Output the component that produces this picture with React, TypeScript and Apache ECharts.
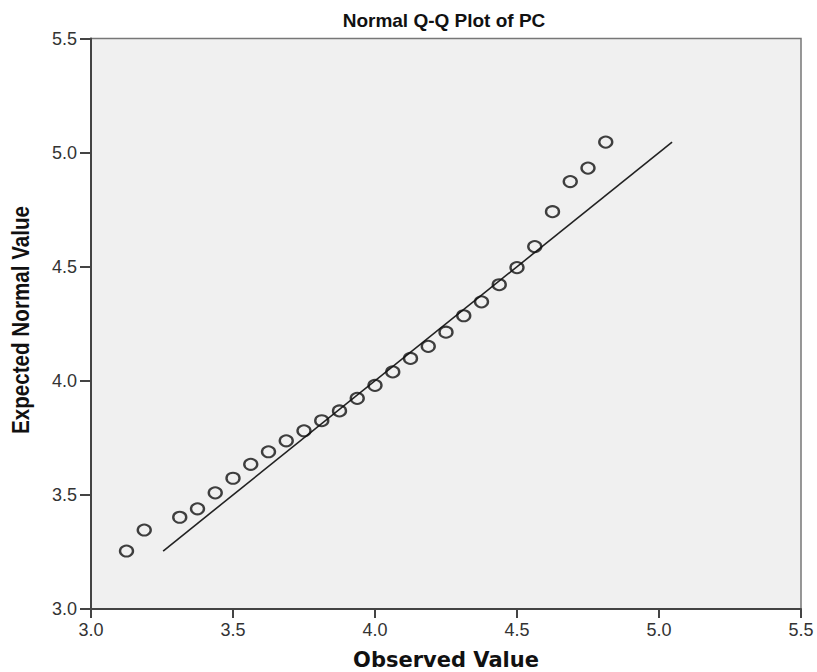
import React, { useEffect, useRef } from "react";
import * as echarts from "echarts";

const titleText = "Normal Q-Q Plot of PC";
const xAxisName = "Observed Value";
const yAxisName = "Expected Normal Value";

const observedValues = [
  3.125, 3.1875, 3.3125, 3.375, 3.4375, 3.5, 3.5625, 3.625, 3.6875, 3.75,
  3.8125, 3.875, 3.9375, 4.0, 4.0625, 4.125, 4.1875, 4.25, 4.3125, 4.375,
  4.4375, 4.5, 4.5625, 4.625, 4.6875, 4.75, 4.8125,
];
const expectedNormalValues = [
  3.254, 3.346, 3.402, 3.439, 3.509, 3.573, 3.634, 3.689, 3.737, 3.781,
  3.825, 3.868, 3.923, 3.980, 4.039, 4.098, 4.151, 4.213, 4.285, 4.346,
  4.421, 4.496, 4.588, 4.741, 4.873, 4.932, 5.046,
];
const referenceLineX = [3.254, 5.046];
const referenceLineY = [3.254, 5.046];

const axisMin = 3.0;
const axisMax = 5.5;
const axisInterval = 0.5;

export default function App() {
  const ref = useRef<HTMLDivElement>(null);
  useEffect(() => {
    if (!ref.current) return;
    const chart = echarts.init(ref.current, null, { renderer: "svg" });
    const tickFont = {
      color: "#333",
      fontFamily: "Liberation Sans, Arial, sans-serif",
      fontSize: 18,
      formatter: (v: number) => v.toFixed(1),
    };
    chart.setOption({
      animation: false,
      backgroundColor: "#ffffff",
      title: {
        text: titleText,
        left: 439,
        textAlign: "center",
        top: 6,
        textStyle: {
          fontFamily: "Liberation Sans, Arial, sans-serif",
          fontWeight: "bold",
          fontSize: 19,
          color: "#111",
        },
      },
      graphic: [
        {
          type: "text",
          x: 21,
          y: 320,
          rotation: Math.PI / 2,
          scaleX: 0.86,
          scaleY: 1,
          style: {
            text: yAxisName,
            fontFamily: "Liberation Sans, Arial, sans-serif",
            fontWeight: "bold",
            fontSize: 24,
            fill: "#111",
            textAlign: "center",
            textVerticalAlign: "middle",
          },
        },
      ],
      grid: {
        left: 91,
        right: 16,
        top: 38.5,
        bottom: 63,
        outerBoundsMode: "none",
        containLabel: false,
        show: true,
        backgroundColor: "#f0f0f0",
        borderColor: "#777",
        borderWidth: 1.5,
      },
      xAxis: {
        type: "value",
        min: axisMin,
        max: axisMax,
        interval: axisInterval,
        name: xAxisName,
        nameLocation: "middle",
        nameGap: 40,
        nameTextStyle: {
          fontFamily: "DejaVu Sans, Verdana, sans-serif",
          fontWeight: "bold",
          fontSize: 21,
          color: "#111",
        },
        axisLine: { show: true, onZero: false, lineStyle: { color: "#444", width: 2 } },
        axisTick: { show: true, length: 9, lineStyle: { color: "#444", width: 2 } },
        axisLabel: { ...tickFont, margin: 12 },
        splitLine: { show: false },
      },
      yAxis: {
        type: "value",
        min: axisMin,
        max: axisMax,
        interval: axisInterval,
        axisLine: { show: true, onZero: false, lineStyle: { color: "#444", width: 2 } },
        axisTick: { show: true, length: 11, lineStyle: { color: "#444", width: 2 } },
        axisLabel: { ...tickFont, margin: 14 },
        splitLine: { show: false },
      },
      series: [
        {
          type: "line",
          data: referenceLineX.map((x, i) => [x, referenceLineY[i]]),
          symbol: "none",
          lineStyle: { color: "#222", width: 1.6 },
          silent: true,
          z: 1,
        },
        {
          type: "scatter",
          data: observedValues.map((x, i) => [x, expectedNormalValues[i]]),
          symbol: "circle",
          symbolSize: [13, 11],
          itemStyle: {
            color: "rgba(0,0,0,0)",
            borderColor: "#111",
            borderWidth: 2.2,
          },
          z: 2,
        },
      ],
    });
    return () => chart.dispose();
  }, []);
  return (
    <div
      ref={ref}
      style={{ position: "absolute", left: 0, top: 0, width: 817, height: 672 }}
    />
  );
}
